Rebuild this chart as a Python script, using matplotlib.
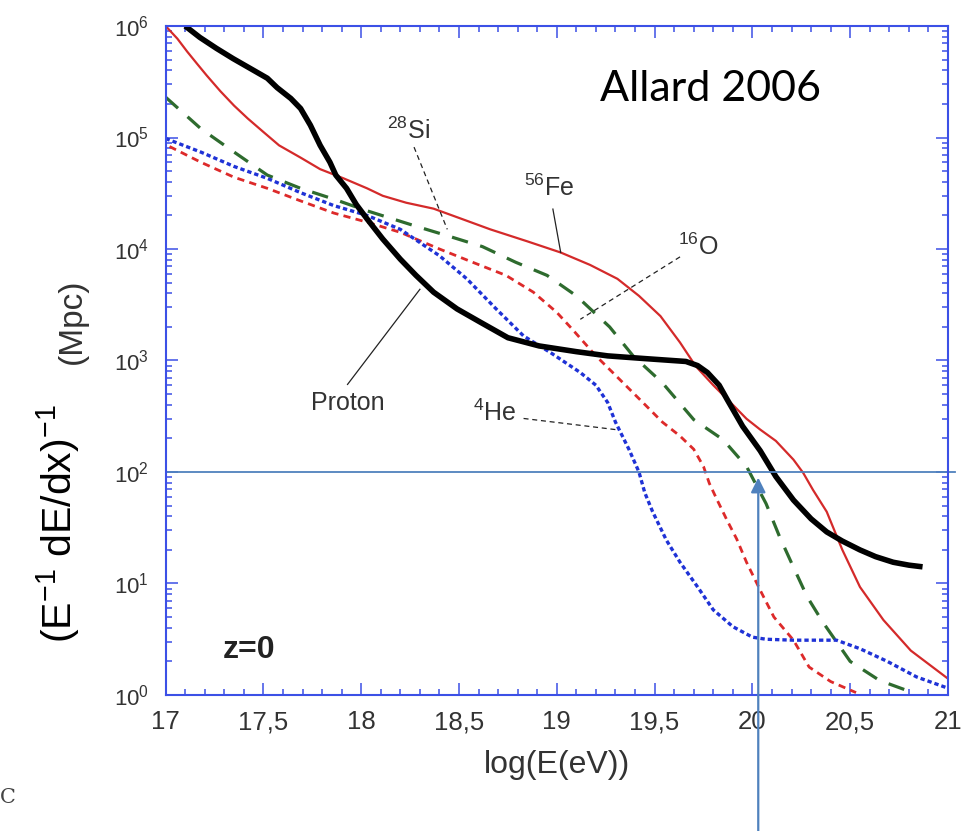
import numpy as np
import matplotlib
matplotlib.use("Agg")
import matplotlib.pyplot as plt
from matplotlib.ticker import FixedLocator, MultipleLocator, LogLocator, FuncFormatter, NullFormatter

plt.rcParams['font.family'] = ['Liberation Sans', 'DejaVu Sans']
plt.rcParams['mathtext.fontset'] = 'custom'
plt.rcParams['mathtext.rm'] = 'Liberation Sans'
plt.rcParams['mathtext.it'] = 'Liberation Sans'
plt.rcParams['mathtext.bf'] = 'Liberation Sans:bold'

# energy loss length vs log(E) (Allard 2006, z=0)
proton_x = [17.10, 17.175, 17.26, 17.345, 17.45, 17.52, 17.57, 17.64, 17.69, 17.74, 17.79, 17.84,
            17.87, 17.925, 17.975, 18.03, 18.11, 18.20, 18.28, 18.37, 18.49, 18.61, 18.75, 18.91,
            19.10, 19.26, 19.45, 19.66, 19.72, 19.77, 19.83, 19.87, 19.95, 20.04, 20.12, 20.21,
            20.30, 20.38, 20.46, 20.55, 20.63, 20.72, 20.80, 20.87]
proton_y = [1.0e6, 7.9e5, 6.3e5, 5.1e5, 4.0e5, 3.4e5, 2.8e5, 2.24e5, 1.82e5, 1.29e5, 8.5e4, 6.0e4,
            4.6e4, 3.5e4, 2.5e4, 1.86e4, 1.23e4, 8.1e3, 5.8e3, 4.1e3, 2.9e3, 2.2e3, 1.6e3, 1.35e3,
            1.2e3, 1.1e3, 1.04e3, 980, 900, 780, 600, 450, 257, 155, 91, 56,
            38, 29, 24, 20, 17.4, 15.5, 14.6, 14.1]

fe_x = [17.00, 17.06, 17.11, 17.16, 17.21, 17.28, 17.35, 17.42, 17.50, 17.58, 17.69, 17.79, 17.91,
        18.03, 18.11, 18.23, 18.37, 18.50, 18.66, 18.85, 19.02, 19.17, 19.31, 19.42, 19.53, 19.63,
        19.71, 19.80, 19.90, 19.97, 20.04, 20.12, 20.21, 20.26, 20.31, 20.38, 20.46, 20.55, 20.67,
        20.81, 21.00]
fe_y = [1.0e6, 7.7e5, 5.9e5, 4.6e5, 3.6e5, 2.6e5, 1.93e5, 1.48e5, 1.12e5, 8.5e4, 6.6e4, 5.2e4, 4.3e4,
        3.5e4, 3.0e4, 2.6e4, 2.3e4, 1.9e4, 1.5e4, 1.17e4, 9.3e3, 7.2e3, 5.4e3, 3.8e3, 2.5e3, 1.45e3,
        890, 600, 400, 300, 240, 190, 129, 98, 69, 44, 20, 9.3, 4.7,
        2.5, 1.4]

si_x = [17.00, 17.18, 17.35, 17.52, 17.69, 17.86, 18.03, 18.28, 18.45, 18.62, 18.79, 18.95, 19.10,
        19.27, 19.39, 19.54, 19.70, 19.85, 19.97, 20.07, 20.14, 20.21, 20.28, 20.36, 20.50, 20.65, 20.82]
si_y = [2.3e5, 1.2e5, 7.4e4, 4.6e4, 3.5e4, 2.8e4, 2.2e4, 1.6e4, 1.3e4, 1.05e4, 7.6e3, 5.8e3, 3.8e3,
        2.0e3, 1.1e3, 630, 295, 195, 112, 52, 26, 14, 7.6, 4.5, 2.0, 1.35, 1.05]

o_x = [17.02, 17.18, 17.35, 17.52, 17.69, 17.86, 18.03, 18.20, 18.40, 18.57, 18.74, 18.88, 19.00,
       19.08, 19.20, 19.32, 19.44, 19.54, 19.63, 19.70, 19.75, 19.78, 19.82, 19.87, 19.92, 19.97,
       20.04, 20.11, 20.21, 20.29, 20.40, 20.53]
o_y = [8.3e4, 6.0e4, 4.4e4, 3.5e4, 2.7e4, 2.1e4, 1.74e4, 1.41e4, 1.0e4, 7.6e3, 5.8e3, 4.1e3, 2.7e3,
       1.9e3, 1.1e3, 680, 420, 280, 210, 160, 112, 79, 56, 37, 25, 15.5,
       8.7, 5.0, 3.1, 1.78, 1.32, 1.05]

he_x = [17.00, 17.18, 17.35, 17.52, 17.69, 17.86, 18.03, 18.20, 18.40, 18.54, 18.69, 18.83, 18.97,
        19.12, 19.20, 19.26, 19.30, 19.37, 19.42, 19.45, 19.49, 19.56, 19.63, 19.72, 19.80, 19.90,
        20.00, 20.07, 20.21, 20.43, 20.55, 20.69, 20.84, 21.00]
he_y = [9.8e4, 7.4e4, 5.5e4, 4.3e4, 3.2e4, 2.45e4, 2.0e4, 1.5e4, 8.7e3, 5.4e3, 2.9e3, 1.66e3, 1.17e3,
        780, 600, 420, 280, 158, 100, 65, 44, 24.5, 15.5, 9.3, 5.8, 4.1,
        3.3, 3.16, 3.1, 3.1, 2.6, 2.0, 1.45, 1.15]

x_ticks = [17, 17.5, 18, 18.5, 19, 19.5, 20, 20.5, 21]
x_ticklabels = ['17', '17,5', '18', '18,5', '19', '19,5', '20', '20,5', '21']
y_decades = [1e0, 1e1, 1e2, 1e3, 1e4, 1e5, 1e6]

hline_y = 100
arrow_x = 20.03
arrow_tip = 89

axis_blue = '#3c50e6'
mark_blue = '#4f81bd'
txt = '#333333'

fig = plt.figure(figsize=(9.63, 8.31), dpi=100)
ax = fig.add_axes([0.172, 0.1637, 0.8124, 0.805])

ax.plot(fe_x, fe_y, color='#d42a2a', lw=1.6, solid_joinstyle='round')
ax.plot(si_x, si_y, color='#2e6b2e', lw=2.3, dashes=(5.2, 4.0))
ax.plot(o_x, o_y, color='#dd2a2a', lw=2.0, dashes=(2.6, 1.9))
ax.plot(he_x, he_y, color='#1f32d6', lw=2.4, dashes=(1.3, 0.9))
ax.plot(proton_x, proton_y, color='black', lw=4.0, solid_capstyle='butt', solid_joinstyle='round')

ax.set_yscale('log')
ax.set_xlim(17, 21)
ax.set_ylim(1, 1e6)

ax.xaxis.set_major_locator(FixedLocator(x_ticks))
ax.set_xticklabels(x_ticklabels)
ax.xaxis.set_minor_locator(MultipleLocator(0.1))
ax.yaxis.set_major_locator(FixedLocator(y_decades))
ax.yaxis.set_major_formatter(FuncFormatter(lambda v, p: r'$10^{%d}$' % round(np.log10(v))))
ax.yaxis.set_minor_locator(LogLocator(base=10, subs=np.arange(2, 10), numticks=20))
ax.yaxis.set_minor_formatter(NullFormatter())

ax.tick_params(which='both', direction='in', top=True, right=True, color=axis_blue, labelcolor=txt)
ax.tick_params(which='major', length=8.6, width=1.1)
ax.tick_params(which='minor', length=4.3, width=1.1)
ax.tick_params(axis='x', labelsize=18.5, pad=11)
ax.tick_params(axis='y', labelsize=16, pad=12)
for s in ax.spines.values():
    s.set_color(axis_blue)
    s.set_linewidth(1.5)

ax.set_xlabel('log(E(eV))', fontsize=23, color=txt, labelpad=11)

# y label, two parts
fig.text(72 / 963, 1 - 643 / 831, r'(E$^{-1}$ dE/dx)$^{-1}$', fontsize=29.5, rotation=90,
         rotation_mode='anchor', ha='left', va='baseline', color='black')
fig.text(81 / 963, 1 - 364 / 831, '(Mpc)', fontsize=24, rotation=90,
         rotation_mode='anchor', ha='left', va='baseline', color=txt)

# curve labels and leader lines
lab = dict(fontsize=18, color=txt)
ax.text(18.13, 9.7e4, r'$^{28}$Si', ha='left', va='baseline', **lab)
ax.plot([18.27, 18.44], [8.2e4, 1.5e4], color='#222222', lw=0.9, dashes=(4, 3))
ax.text(18.83, 2.97e4, r'$^{56}$Fe', ha='left', va='baseline', **lab)
ax.plot([18.98, 19.02], [2.28e4, 9.3e3], color='#222222', lw=0.9)
ax.text(19.62, 8.9e3, r'$^{16}$O', ha='left', va='baseline', **lab)
ax.plot([19.63, 19.12], [8.5e3, 2.34e3], color='#222222', lw=0.9, dashes=(4, 3))
ax.text(17.93, 363, 'Proton', ha='center', va='baseline', **lab)
ax.plot([17.93, 18.30], [610, 4.35e3], color='#222222', lw=0.9)
ax.text(18.57, 289, r'$^{4}$He', ha='left', va='baseline', **lab)
ax.plot([18.83, 19.06, 19.30], [302, 270, 240], color='#222222', lw=0.9, dashes=(4, 3))

ax.text(17.29, 2.15, 'z=0', fontsize=23, fontweight='bold', color='#222222', ha='left', va='baseline')
ax.text(0.555, 0.888, 'Allard 2006', transform=ax.transAxes, fontsize=31, family='Lato',
        ha='left', va='baseline', color='black')

# marker line at 100 Mpc and arrow
ax.plot([17, 21.035], [hline_y, hline_y], color=mark_blue, lw=1.3, clip_on=False)
ax.annotate('', xy=(arrow_x, arrow_tip), xytext=(arrow_x, -0.21),
            textcoords=('data', 'axes fraction'), annotation_clip=False,
            arrowprops=dict(arrowstyle='-|>', color=mark_blue, lw=1.6,
                            mutation_scale=22, shrinkA=0, shrinkB=0))

fig.text(0.0, 1 - 803 / 831, 'C', fontsize=15, family='DejaVu Serif', color='#444444')

fig.savefig('out.png', dpi=100)
